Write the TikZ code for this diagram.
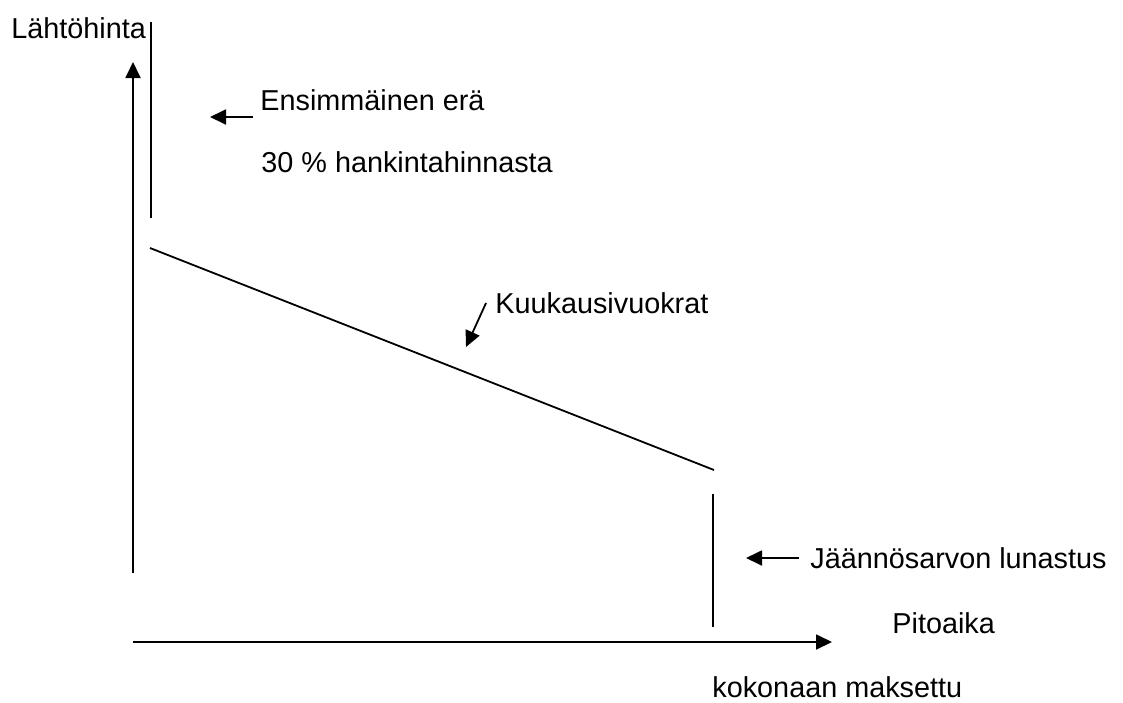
\documentclass[tikz,border=0pt]{standalone}
\usepackage{fontspec}
\setmainfont{Liberation Sans}
\usetikzlibrary{arrows.meta}
\tikzset{
    lbl/.style={anchor=base west, inner sep=0pt, font=\fontsize{14.4}{17}\selectfont},
    ln/.style={line width=0.9pt},
    arr/.style={ln, -{Triangle[length=8pt, width=7.5pt]}},
}

\begin{document}
\begin{tikzpicture}[x=0.5pt, y=-0.5pt]
    \useasboundingbox (0,0) rectangle (1123,702);

    % Axes
    \coordinate (ybot) at (133,573);
    \coordinate (ytop) at (133,62);
    \coordinate (xleft) at (133,642);
    \coordinate (xright) at (832,642);
    \draw[arr] (ybot) -- (ytop);
    \draw[arr] (xleft) -- (xright);
    \node[lbl] (price) at (11,38) {Lähtöhinta};
    \node[lbl] (time) at (892,633) {Pitoaika};
    \node[lbl] (paid) at (712,697) {kokonaan maksettu};

    % First payment
    \coordinate (firsttop) at (151,22);
    \coordinate (firstbot) at (151,218);
    \draw[ln] (firsttop) -- (firstbot);
    \node[lbl] (first) at (260,110) {Ensimmäinen erä};
    \node[lbl] (share) at (261,172) {30 \% hankintahinnasta};
    \coordinate (firstarr) at (253,117);
    \draw[arr] (firstarr) -- ++(-43,0) coordinate (firsttip);

    % Monthly rents
    \coordinate (rentstart) at (150,248);
    \coordinate (rentend) at (714,470);
    \draw[ln] (rentstart) -- (rentend);
    \node[lbl] (rent) at (495,313) {Kuukausivuokrat};
    \coordinate (rentarr) at (486,303);
    \coordinate (renttip) at (466,347);
    \draw[arr] (rentarr) -- (renttip);

    % Residual value
    \coordinate (restop) at (713,494);
    \coordinate (resbot) at (713,627);
    \draw[ln] (restop) -- (resbot);
    \node[lbl] (residual) at (810,568) {Jäännösarvon lunastus};
    \coordinate (resarr) at (799,558);
    \draw[arr] (resarr) -- ++(-53,0) coordinate (restip);
\end{tikzpicture}
\end{document}
